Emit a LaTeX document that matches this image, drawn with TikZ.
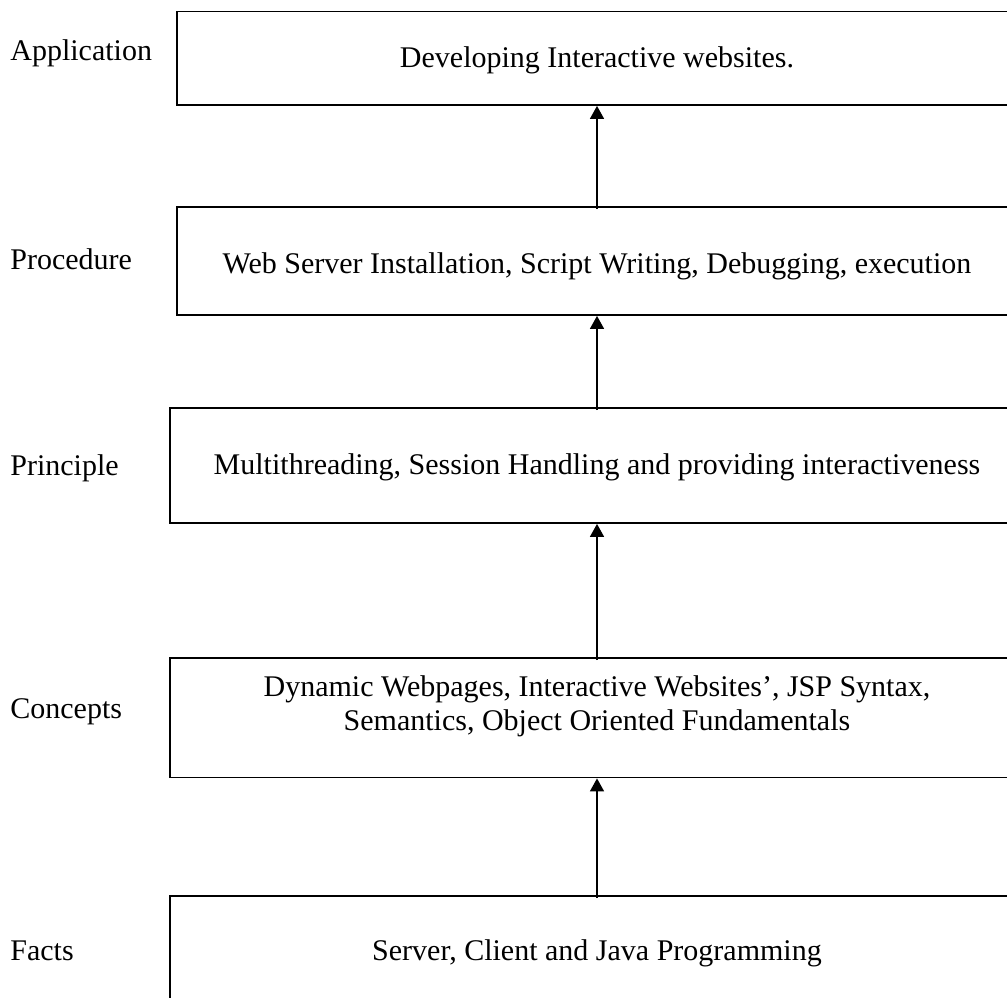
\documentclass[tikz,border=0pt]{standalone}
\usepackage{fontspec}
\setmainfont{Liberation Serif}
\usepackage{tikz}
\usetikzlibrary{arrows.meta}

\begin{document}
\begin{tikzpicture}[x=0.5pt,y=-0.5pt,
font=\fontsize{15}{17}\selectfont,
box/.style={draw,line width=0.9pt,inner sep=0pt},
lab/.style={anchor=base west,inner sep=0pt},
txt/.style={anchor=base,inner sep=0pt,align=center},
arr/.style={line width=0.75pt,shorten <=-1.5pt,-{Triangle[width=7pt,length=6.5pt]}}
]
\useasboundingbox (0,0) rectangle (1007,997);
\clip (0,0) rectangle (1007,997);

% levels
\node[box,minimum width=420pt,minimum height=46.75pt] (app) at (597,58.25) {};
\node[box,minimum width=420pt,minimum height=54pt] (proc) at (597,261) {};
\node[box,minimum width=427pt,minimum height=57.5pt] (prin) at (597,465.5) {};
\node[box,minimum width=427pt,minimum height=59.75pt] (conc) at (597,717.75) {};
\node[box,minimum width=427pt,minimum height=72pt] (fact) at (597,968) {};

\path (597,67) node[txt] (apptxt) {Developing Interactive websites.}
      (597,273) node[txt] (proctxt) {Web Server Installation, Script Writing, Debugging, execution}
      (597,474) node[txt] (printxt) {Multithreading, Session Handling and providing interactiveness}
      (597,730) node[txt] (conctxt) {Dynamic Webpages, Interactive Websites', JSP Syntax,\\
                                     Semantics, Object Oriented Fundamentals}
      (597,960) node[txt] (facttxt) {Server, Client and Java Programming};

\path (10,60) node[lab] (applab) {Application}
      (10,269) node[lab] (proclab) {Procedure}
      (10,475) node[lab] (prinlab) {Principle}
      (10,718) node[lab] (conclab) {Concepts}
      (10,960) node[lab] (factlab) {Facts};

\draw[arr] (fact.north) -- (conc.south);
\draw[arr] (conc.north) -- (prin.south);
\draw[arr] (prin.north) -- (proc.south);
\draw[arr] (proc.north) -- (app.south);
\end{tikzpicture}
\end{document}
